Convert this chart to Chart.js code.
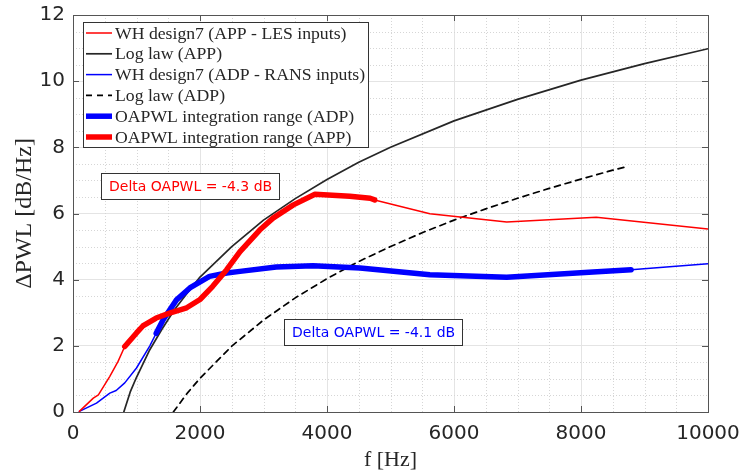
<!DOCTYPE html>
<html>
<head>
<meta charset="utf-8">
<script src="https://cdn.jsdelivr.net/npm/chart.js@4.4.1/dist/chart.umd.min.js"></script>
<style>
  html, body { margin: 0; padding: 0; background: #fff; }
</style>
</head>
<body>
<canvas id="pwlChart" width="744" height="473"></canvas>
<script>
// WH design7, APP with LES inputs
const lesFreq = [100, 320, 400, 580, 710, 815, 1000, 1100, 1310, 1520, 1790, 2000, 2200, 2420, 2630, 2940, 3150, 3470, 3810, 4360, 4680, 4750, 5620, 6830, 8240, 10000];
const lesDpwl = [0.02, 0.42, 0.52, 1.08, 1.53, 1.98, 2.39, 2.6, 2.84, 2.99, 3.15, 3.4, 3.8, 4.3, 4.85, 5.5, 5.86, 6.26, 6.58, 6.52, 6.46, 6.41, 5.99, 5.74, 5.89, 5.53];

// WH design7, ADP with RANS inputs
const ransFreq = [100, 370, 580, 680, 815, 1000, 1210, 1310, 1420, 1630, 1840, 2150, 2420, 2630, 3200, 3780, 4520, 5620, 6830, 8190, 8790, 10000];
const ransDpwl = [0.02, 0.27, 0.57, 0.65, 0.88, 1.33, 2.0, 2.38, 2.79, 3.39, 3.75, 4.1, 4.2, 4.25, 4.38, 4.42, 4.35, 4.15, 4.07, 4.23, 4.3, 4.48];

// log laws
const logAppFreq = [800, 900, 1000, 1200, 1400, 1600, 1800, 2000, 2500, 3000, 3500, 4000, 4500, 5000, 6000, 7000, 8000, 9000, 10000];
const logAppDpwl = [0, 0.6, 1.05, 1.85, 2.5, 3.1, 3.6, 4.08, 5.0, 5.8, 6.45, 7.03, 7.55, 8.0, 8.8, 9.45, 10.03, 10.53, 10.98];
const logAdpFreq = [1580, 1800, 2000, 2500, 3000, 3500, 4000, 4500, 5000, 5500, 6000, 6500, 7000, 7500, 8000, 8500, 8750];
const logAdpDpwl = [0, 0.57, 1.02, 1.99, 2.78, 3.45, 4.03, 4.55, 5.0, 5.42, 5.8, 6.14, 6.46, 6.76, 7.04, 7.31, 7.43];

// OAPWL integration ranges [Hz]
const appRange = [815, 4750];
const adpRange = [1310, 8790];

const deltaApp = -4.3;
const deltaAdp = -4.1;

const toPoints = (fs, vs) => fs.map((f, i) => ({ x: f, y: vs[i] }));
const inRange = (pts, r) => pts.filter(p => p.x >= r[0] && p.x <= r[1]);

const lesPts = toPoints(lesFreq, lesDpwl);
const ransPts = toPoints(ransFreq, ransDpwl);

const AXIS = '#262626';

// dotted minor grid underneath, box + inward ticks, legend and text boxes on top
const matlabLook = {
  id: 'matlabLook',
  beforeDatasetsDraw(chart) {
    const { ctx, chartArea: a, scales: { x, y } } = chart;
    ctx.save();
    ctx.strokeStyle = '#d6d6d6';
    ctx.lineWidth = 1;
    ctx.setLineDash([1, 2]);
    for (let v = 500; v < 10000; v += 500) {
      if (v % 2000 === 0) continue;
      const px = Math.round(x.getPixelForValue(v)) + 0.5;
      ctx.beginPath(); ctx.moveTo(px, a.top); ctx.lineTo(px, a.bottom); ctx.stroke();
    }
    for (let v = 0.5; v < 12; v += 0.5) {
      if (v % 2 === 0) continue;
      const py = Math.round(y.getPixelForValue(v)) + 0.5;
      ctx.beginPath(); ctx.moveTo(a.left, py); ctx.lineTo(a.right, py); ctx.stroke();
    }
    ctx.restore();
  },
  afterDatasetsDraw(chart) {
    const { ctx, chartArea: a, scales: { x, y } } = chart;
    ctx.save();
    ctx.strokeStyle = '#555';
    ctx.lineWidth = 1;
    ctx.strokeRect(Math.round(a.left) + 0.5, Math.round(a.top) + 0.5,
      Math.round(a.right - a.left), Math.round(a.bottom - a.top));
    const tick = 6;
    ctx.beginPath();
    for (let v = 0; v <= 10000; v += 2000) {
      const px = Math.round(x.getPixelForValue(v)) + 0.5;
      ctx.moveTo(px, a.bottom); ctx.lineTo(px, a.bottom - tick);
      ctx.moveTo(px, a.top); ctx.lineTo(px, a.top + tick);
    }
    for (let v = 0; v <= 12; v += 2) {
      const py = Math.round(y.getPixelForValue(v)) + 0.5;
      ctx.moveTo(a.left, py); ctx.lineTo(a.left + tick, py);
      ctx.moveTo(a.right, py); ctx.lineTo(a.right - tick, py);
    }
    ctx.stroke();

    // legend box
    const sets = chart.data.datasets;
    ctx.font = '17.7px "Liberation Serif"';
    const textW = Math.max(...sets.map(d => ctx.measureText(d.label).width));
    const lx = a.left + 10, ly = a.top + 7, rowH = 20.8;
    const boxW = 32 + textW + 3, boxH = sets.length * rowH;
    ctx.fillStyle = '#fff';
    ctx.fillRect(lx, ly, boxW, boxH);
    ctx.strokeStyle = '#333';
    ctx.strokeRect(Math.round(lx) + 0.5, Math.round(ly) + 0.5, Math.round(boxW), Math.round(boxH));
    sets.forEach((d, i) => {
      const cy = ly + 11 + i * rowH;
      ctx.strokeStyle = d.borderColor;
      ctx.lineWidth = d.borderWidth;
      ctx.setLineDash(d.borderDash || []);
      ctx.beginPath(); ctx.moveTo(lx + 3, cy); ctx.lineTo(lx + 29, cy); ctx.stroke();
      ctx.setLineDash([]);
      ctx.fillStyle = AXIS;
      ctx.textBaseline = 'middle';
      ctx.textAlign = 'left';
      ctx.fillText(d.label, lx + 32, cy + 1);
    });

    // Delta OAPWL notes
    const note = (fx, fy, text, color) => {
      const bx = Math.round(x.getPixelForValue(fx)) + 0.5;
      const by = Math.round(y.getPixelForValue(fy)) + 0.5;
      ctx.font = '14px "DejaVu Sans"';
      const w = Math.round(ctx.measureText(text).width + 15);
      ctx.fillStyle = '#fff';
      ctx.fillRect(bx, by, w, 26);
      ctx.strokeStyle = '#333';
      ctx.lineWidth = 1;
      ctx.strokeRect(bx, by, w, 26);
      ctx.fillStyle = color;
      ctx.textBaseline = 'middle';
      ctx.fillText(text, bx + 7.5, by + 13.5);
    };
    note(447, 7.22, `Delta OAPWL = ${deltaApp} dB`, '#ff0000');
    note(3318, 2.82, `Delta OAPWL = ${deltaAdp} dB`, '#0000ff');
    ctx.restore();
  }
};

new Chart(document.getElementById('pwlChart'), {
  type: 'line',
  data: {
    datasets: [
      { label: 'WH design7 (APP - LES inputs)', data: lesPts, borderColor: '#ff0000', borderWidth: 1.5, order: 2 },
      { label: 'Log law (APP)', data: toPoints(logAppFreq, logAppDpwl), borderColor: '#262626', borderWidth: 1.7, order: 4 },
      { label: 'WH design7 (ADP - RANS inputs)', data: ransPts, borderColor: '#0000ff', borderWidth: 1.5, order: 3 },
      { label: 'Log law (ADP)', data: toPoints(logAdpFreq, logAdpDpwl), borderColor: '#000000', borderWidth: 1.7, borderDash: [6, 5], order: 5 },
      { label: 'OAPWL integration range (ADP)', data: inRange(ransPts, adpRange), borderColor: '#0000ff', borderWidth: 5.5, order: 1 },
      { label: 'OAPWL integration range (APP)', data: inRange(lesPts, appRange), borderColor: '#ff0000', borderWidth: 5.5, order: 0 }
    ]
  },
  options: {
    responsive: false,
    animation: false,
    devicePixelRatio: 1,
    layout: { padding: { top: 15, right: 36, left: 0, bottom: 0 } },
    elements: { point: { radius: 0 }, line: { tension: 0, borderCapStyle: 'round', borderJoinStyle: 'round' } },
    plugins: { legend: { display: false }, tooltip: { enabled: false } },
    scales: {
      x: {
        type: 'linear', min: 0, max: 10000,
        ticks: { stepSize: 2000, color: AXIS, font: { family: 'DejaVu Sans', size: 20 }, padding: 10, maxRotation: 0,
          callback: v => String(v) },
        grid: { color: '#e4e4e4', drawTicks: false },
        border: { display: false },
        title: { display: true, text: 'f [Hz]', color: AXIS, font: { family: 'Liberation Serif', size: 22 }, padding: 0 },
        afterFit(s) { s.height = 61; s.paddingLeft = 0; s.paddingRight = 0; }
      },
      y: {
        min: 0, max: 12,
        ticks: { stepSize: 2, color: AXIS, font: { family: 'DejaVu Sans', size: 20 }, padding: 8 },
        grid: { color: '#e4e4e4', drawTicks: false },
        border: { display: false },
        title: { display: true, text: 'ΔPWL [dB/Hz]', color: AXIS, font: { family: 'Liberation Serif', size: 24 }, padding: { top: 10, bottom: 0 } },
        afterFit(s) { s.width = 73; s.paddingTop = 0; s.paddingBottom = 0; }
      }
    }
  },
  plugins: [matlabLook]
});
</script>
</body>
</html>
